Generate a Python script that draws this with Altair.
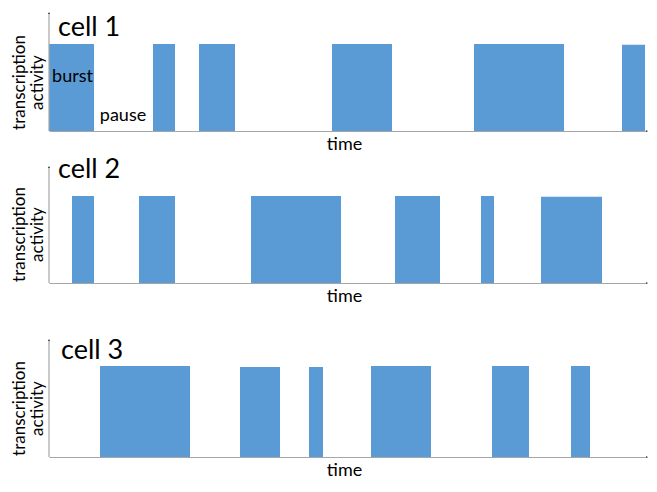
import altair as alt
import pandas as pd

# ---- data (time in arbitrary units, activity: burst = 1) ----
cells = ["cell 1", "cell 2", "cell 3"]
burst_start = [
    [0, 104, 150, 283, 425, 573],
    [23, 90, 202, 346, 432, 492],
    [51, 191, 260, 322, 443, 522],
]
burst_end = [
    [45, 126, 186, 343, 515, 596],
    [45, 126, 292, 391, 445, 553],
    [141, 231, 274, 382, 480, 541],
]
burst_level = [
    [1, 1, 1, 1, 1, 0.99],
    [1, 1, 1, 1, 1, 0.99],
    [1, 0.99, 0.99, 1, 1, 1],
]
note_text = ["burst", "pause"]
note_time = [23.5, 74]
note_level = [0.56, 0.115]

T_MAX = 598
# layout (pixels / scale units)
panel_height = [121, 130, 152]
bar_px = [87, 87, 91]
axis_top = [1.356, 1.333, 1.286]
cell_x = [9, 9, 12]
cell_y = [116 / 87, 1.443, 1.313]
ytitle_y = [72, 81, 103]

BLUE = "#5B9BD5"
AXIS = "#A6A6A6"
FONT = "Lato"


def panel(i):
    n = len(burst_start[i])
    bars = pd.DataFrame({"start": burst_start[i], "end": burst_end[i],
                         "level": burst_level[i], "base": [0] * n})
    xs = alt.Scale(domain=[0, T_MAX], nice=False, zero=False)
    ys = alt.Scale(domain=[0, panel_height[i] / bar_px[i]], nice=False, zero=False)
    rect = alt.Chart(bars).mark_rect(color=BLUE).encode(
        x=alt.X("start:Q", scale=xs, axis=alt.Axis(
            title="time", titleX=295, titlePadding=4, domain=True,
            domainColor=AXIS, domainWidth=1.2, ticks=False, labels=False, grid=False)),
        x2="end:Q",
        y=alt.Y("level:Q", scale=ys, axis=alt.Axis(
            title=["transcription", "activity"], titleY=ytitle_y[i], titlePadding=3,
            titleLineHeight=18, titleFontSize=17, domain=False, ticks=False,
            labels=False, grid=False)),
        y2="base:Q",
    )
    yline = alt.Chart(pd.DataFrame({"t": [0], "base": [0], "top": [axis_top[i]]})).mark_rule(
        color=AXIS, strokeWidth=1.2).encode(
        x="t:Q", y="base:Q", y2="top:Q")
    tips = alt.Chart(pd.DataFrame({
        "t": [0, T_MAX], "a": [axis_top[i], 0], "shape": ["triangle-up", "triangle-right"]})
    ).mark_point(filled=True, color="#404040", size=5, opacity=1).encode(
        x="t:Q", y="a:Q", shape=alt.Shape("shape:N", scale=None))
    label = alt.Chart(pd.DataFrame({"t": [cell_x[i]], "a": [cell_y[i]], "txt": [cells[i]]})).mark_text(
        align="left", baseline="top", fontSize=27, font=FONT, color="#000000").encode(
        x="t:Q", y="a:Q", text="txt:N")
    layers = [rect, yline, tips, label]
    if i == 0:
        notes = alt.Chart(pd.DataFrame({"t": note_time, "a": note_level, "txt": note_text})).mark_text(
            align="center", baseline="alphabetic", fontSize=18, font=FONT, color="#000000").encode(
            x="t:Q", y="a:Q", text="txt:N")
        layers.append(notes)
    return alt.layer(*layers).properties(width=T_MAX, height=panel_height[i])


chart = alt.vconcat(panel(0), panel(1), panel(2), spacing=0).properties(
    padding={"left": 2, "top": 2, "right": 0, "bottom": 0}
).configure_view(stroke=None).configure_axis(
    titleFont=FONT, titleFontSize=18, titleFontWeight="normal", titleColor="#000000"
)

chart.save("out.html", embed_options={"renderer": "svg", "actions": False})
